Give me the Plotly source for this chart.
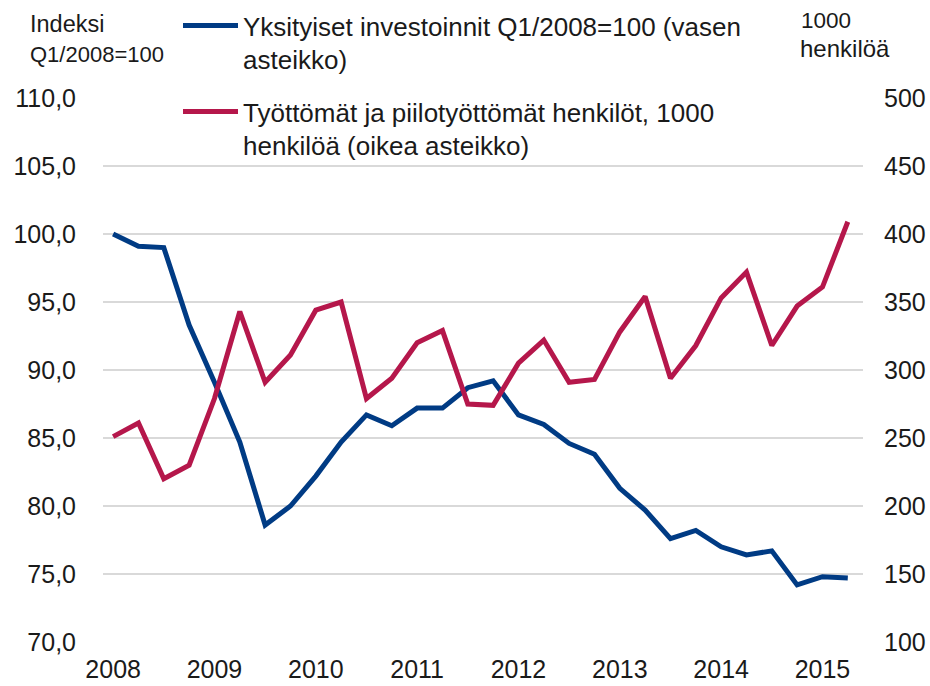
import plotly.graph_objects as go

years = [2008, 2009, 2010, 2011, 2012, 2013, 2014, 2015]
quarters = [f"{y} Q{q}" for y in years for q in range(1, 5)][:30]

investments = [100.0, 99.1, 99.0, 93.3, 89.1, 84.7, 78.6, 80.0, 82.2, 84.7,
               86.7, 85.9, 87.2, 87.2, 88.7, 89.2, 86.7, 86.0, 84.6, 83.8,
               81.3, 79.7, 77.6, 78.2, 77.0, 76.4, 76.7, 74.2, 74.8, 74.7]
unemployed = [251, 261, 220, 230, 279, 343, 291, 311, 344, 350,
              279, 294, 320, 329, 275, 274, 305, 322, 291, 293,
              328, 354, 294, 318, 353, 372, 318, 347, 361, 409]

left_ticks = [70, 75, 80, 85, 90, 95, 100, 105, 110]
left_ticktext = [f"{v:.1f}".replace(".", ",") for v in left_ticks]
right_ticks = [100, 150, 200, 250, 300, 350, 400, 450, 500]

name_inv = "Yksityiset investoinnit Q1/2008=100 (vasen<br>asteikko)"
name_unemp = "Työttömät ja piilotyöttömät henkilöt, 1000<br>henkilöä (oikea asteikko)"

BLUE = "#003B84"
RED = "#B5174B"
FONT = "Liberation Sans, Arial, sans-serif"

fig = go.Figure()
fig.add_trace(go.Scatter(x=quarters, y=investments, mode="lines", name=name_inv,
                         line=dict(color=BLUE, width=5), legend="legend"))
fig.add_trace(go.Scatter(x=quarters, y=unemployed, mode="lines", name=name_unemp,
                         line=dict(color=RED, width=5), yaxis="y2", legend="legend2"))

W, H = 930, 686
L, R, T, B = 103, 67, 98, 44
pw, ph = W - L - R, H - T - B

def px(xp):
    return (xp - L) / pw

def py(yp):
    return (H - B - yp) / ph

def cx(xp):
    return xp / W

def cy(yp):
    return 1 - yp / H

fig.update_layout(
    width=W, height=H,
    margin=dict(l=L, r=R, t=T, b=B, autoexpand=False),
    plot_bgcolor="white", paper_bgcolor="white",
    font=dict(family=FONT, size=25, color="#1a1a1a"),
    xaxis=dict(type="category", range=[-0.4, 29.6], automargin=False,
               tickvals=[f"{y} Q1" for y in years], ticktext=[str(y) for y in years],
               showgrid=False, zeroline=False, showline=False, ticks="",
               ticklabelstandoff=10, tickfont=dict(size=25)),
    yaxis=dict(range=[70, 110], tickvals=left_ticks, ticktext=left_ticktext, automargin=False,
               showgrid=True, gridcolor="#d9d9d9", gridwidth=2, zeroline=False,
               showline=False, ticks="", ticklabelstandoff=26, tickfont=dict(size=25)),
    yaxis2=dict(range=[100, 500], tickvals=right_ticks, overlaying="y", side="right",
                automargin=False, showgrid=False, zeroline=False, showline=False, ticks="",
                ticklabelstandoff=20, tickfont=dict(size=25)),
    legend=dict(xref="container", yref="container", x=cx(178), y=cy(2),
                xanchor="left", yanchor="top",
                bgcolor="rgba(0,0,0,0)", font=dict(size=26), valign="top",
                itemwidth=55, tracegroupgap=0),
    legend2=dict(xref="container", yref="container", x=cx(178), y=cy(88),
                 xanchor="left", yanchor="top",
                 bgcolor="rgba(0,0,0,0)", font=dict(size=26), valign="top",
                 itemwidth=55, tracegroupgap=0),
    showlegend=True,
)

annotations = [
    ("Indeksi", 28, 24, 23.5),
    ("Q1/2008=100", 28, 54, 22),
    ("1000", 799, 21, 22.5),
    ("henkilöä", 798, 48, 24),
]
for text, xp, yp, size in annotations:
    fig.add_annotation(text=text, x=px(xp), y=py(yp), xref="paper", yref="paper",
                       xanchor="left", yanchor="middle", showarrow=False,
                       font=dict(size=size, family=FONT, color="#1a1a1a"))

fig.write_html("out.html", config={"displayModeBar": False},
               post_script="document.body.style.margin='0';")
